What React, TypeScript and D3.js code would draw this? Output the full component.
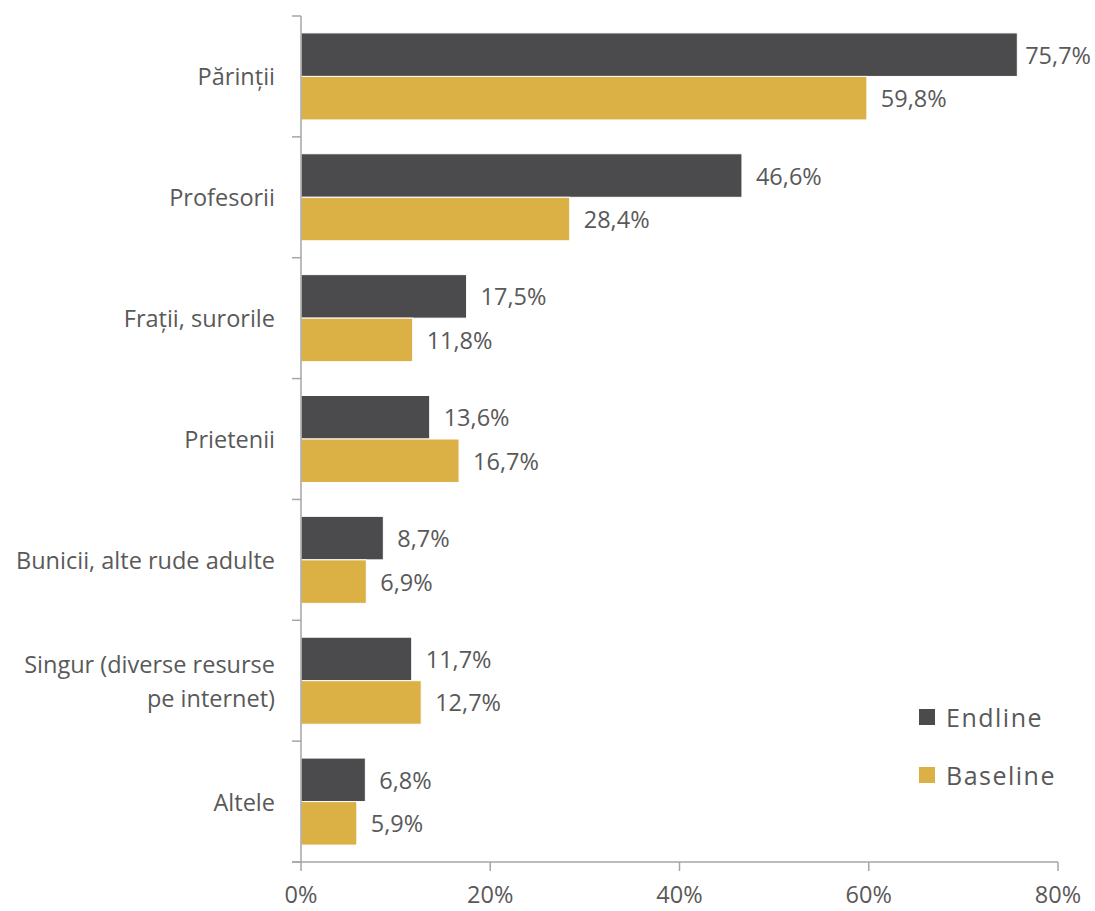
import { useEffect, useRef } from "react";
import * as d3 from "d3";

// categories, top to bottom (second one is split on two lines)
const categories = [
  "Părinții",
  "Profesorii",
  "Frații, surorile",
  "Prietenii",
  "Bunicii, alte rude adulte",
  "Singur (diverse resurse|pe internet)",
  "Altele",
];
const endline = [75.7, 46.6, 17.5, 13.6, 8.7, 11.7, 6.8];
const baseline = [59.8, 28.4, 11.8, 16.7, 6.9, 12.7, 5.9];
const seriesNames = ["Endline", "Baseline"];
const seriesColors = ["#4b4b4d", "#dbb044"];
const xTicks = [0, 20, 40, 60, 80];

const W = 1095;
const H = 911;
const FONT = "'Open Sans', 'Noto Sans', sans-serif";
const TEXT = "#595959";
const AXIS = "#a6a6a6";
const FS = 23.5;

const fmt = (v: number) => v.toFixed(1).replace(".", ",") + "%";

export default function App() {
  const svgRef = useRef<SVGSVGElement>(null);

  useEffect(() => {
    if (!svgRef.current) return;
    const svg = d3.select(svgRef.current);
    svg.selectAll("*").remove();

    const x = d3.scaleLinear().domain([0, 80]).range([301, 1058]);
    const y = d3
      .scaleBand<string>()
      .domain(categories)
      .range([16, 862])
      .paddingInner(0.28)
      .paddingOuter(0.14);
    const sub = d3
      .scaleBand<string>()
      .domain(seriesNames)
      .range([0, y.bandwidth()]);

    const values = [endline, baseline];

    // bars
    seriesNames.forEach((s, si) => {
      svg
        .append("g")
        .selectAll("rect")
        .data(categories)
        .join("rect")
        .attr("x", x(0))
        .attr("y", (c) => (y(c) ?? 0) + (sub(s) ?? 0))
        .attr("width", (_, i) => x(values[si][i]) - x(0))
        .attr("height", sub.bandwidth())
        .attr("fill", seriesColors[si])
        .attr("stroke", "#fff")
        .attr("stroke-width", 1);

      svg
        .append("g")
        .selectAll("text")
        .data(categories)
        .join("text")
        .attr("x", (_, i) => x(values[si][i]) + 14)
        .attr("y", (c) => (y(c) ?? 0) + (sub(s) ?? 0) + sub.bandwidth() / 2)
        .attr("dominant-baseline", "central")
        .attr("font-family", FONT)
        .attr("font-size", FS)
        .attr("fill", TEXT)
        .text((_, i) => fmt(values[si][i]))
        .each(function () {
          // keep labels inside the picture (the long top bar)
          const el = this as SVGTextElement;
          const w = el.getComputedTextLength();
          const lx = +el.getAttribute("x")!;
          if (lx + w > W - 4) el.setAttribute("x", String(W - 4 - w));
        });
    });

    // y axis line + ticks at band boundaries
    const axis = svg.append("g").attr("stroke", AXIS).attr("stroke-width", 1.5);
    axis.append("line").attr("x1", x(0)).attr("x2", x(0)).attr("y1", 16).attr("y2", 862);
    d3.range(categories.length + 1).forEach((i) => {
      const yy = 16 + i * y.step();
      axis.append("line").attr("x1", x(0) - 9).attr("x2", x(0)).attr("y1", yy).attr("y2", yy);
    });

    // x axis
    axis.append("line").attr("x1", x(0) - 9).attr("x2", x(80)).attr("y1", 862).attr("y2", 862);
    xTicks.forEach((t) => {
      axis.append("line").attr("x1", x(t)).attr("x2", x(t)).attr("y1", 862).attr("y2", 871);
    });
    svg
      .append("g")
      .selectAll("text")
      .data(xTicks)
      .join("text")
      .attr("x", (t) => x(t))
      .attr("y", 894)
      .attr("text-anchor", "middle")
      .attr("dominant-baseline", "central")
      .attr("font-family", FONT)
      .attr("font-size", FS)
      .attr("fill", TEXT)
      .text((t) => t + "%");

    // category labels
    const labels = svg
      .append("g")
      .selectAll("text")
      .data(categories)
      .join("text")
      .attr("text-anchor", "end")
      .attr("font-family", FONT)
      .attr("font-size", FS)
      .attr("fill", TEXT);
    labels.each(function (c) {
      const lines = c.split("|");
      const cy = (y(c) ?? 0) + y.bandwidth() / 2;
      const lh = 34;
      lines.forEach((ln, li) => {
        d3.select(this)
          .append("tspan")
          .attr("x", 275)
          .attr("y", cy + (li - (lines.length - 1) / 2) * lh)
          .attr("dominant-baseline", "central")
          .text(ln);
      });
    });

    // legend
    const lg = svg.append("g");
    seriesNames.forEach((s, i) => {
      const ly = 717 + i * 58;
      lg.append("rect")
        .attr("x", 919)
        .attr("y", ly - 8)
        .attr("width", 16)
        .attr("height", 16)
        .attr("fill", seriesColors[i]);
      lg.append("text")
        .attr("x", 946)
        .attr("y", ly)
        .attr("dominant-baseline", "central")
        .attr("font-family", FONT)
        .attr("font-size", 25)
        .attr("letter-spacing", 1.5)
        .attr("fill", TEXT)
        .text(s);
    });
  }, []);

  return (
    <svg
      ref={svgRef}
      width={W}
      height={H}
      style={{ position: "absolute", left: 0, top: 0, background: "#fff" }}
    />
  );
}
